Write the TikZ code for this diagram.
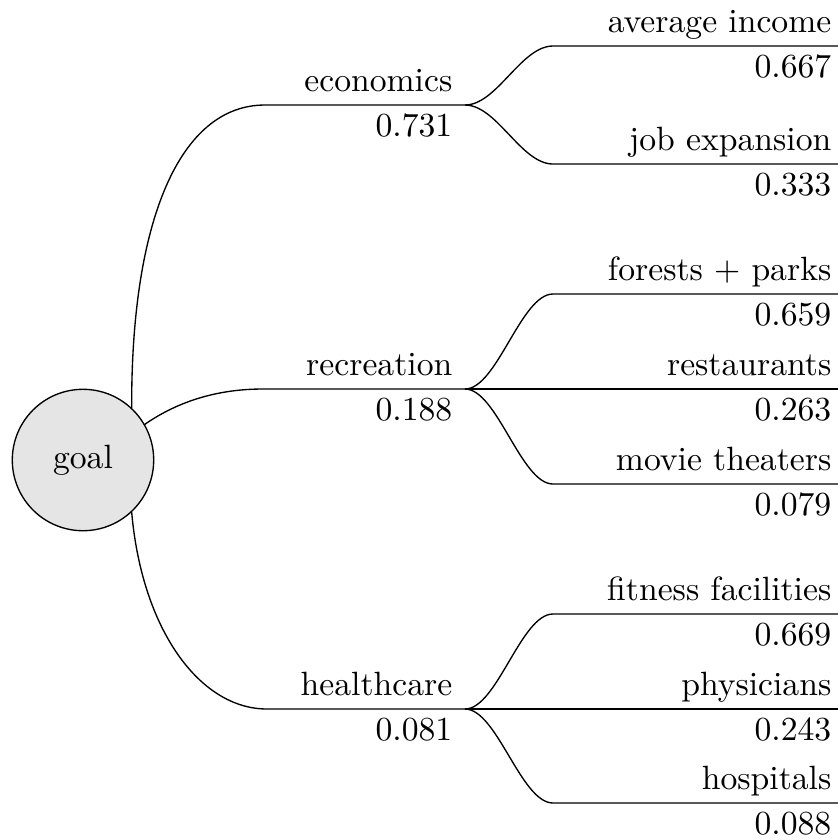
\documentclass[tikz,border=0pt]{standalone}
\begin{document}
\begin{tikzpicture}[x=0.297pt,y=-0.297pt,
  lab/.style={inner sep=0pt, anchor=base east},
  conn/.style={draw=black, line width=0.4pt},
  goalnode/.style={circle, draw=black, line width=0.4pt, fill=black!10, minimum size=42pt, inner sep=0pt}]
\useasboundingbox (0,0) rectangle (838,840);

\node[goalnode] (goal) at (83,460) {goal};

% level 1 coordinates
\coordinate (econA) at (265,105);
\coordinate (econ) at (465,105);
\coordinate (recA) at (263,389);
\coordinate (rec) at (465,389);
\coordinate (hlthA) at (267,709);
\coordinate (hlth) at (465,709);

% level 2 coordinates
\coordinate (incA) at (553,46);   \coordinate (inc) at (838,46);
\coordinate (jobA) at (553,164);  \coordinate (job) at (838,164);
\coordinate (forA) at (553,294);  \coordinate (for) at (838,294);
\coordinate (resA) at (553,389);  \coordinate (res) at (838,389);
\coordinate (movA) at (553,484);  \coordinate (mov) at (838,484);
\coordinate (fitA) at (553,614);  \coordinate (fit) at (838,614);
\coordinate (phyA) at (553,709);  \coordinate (phy) at (838,709);
\coordinate (hosA) at (553,803);  \coordinate (hos) at (838,803);

% level 1 connectors
\draw[conn] (goal.47) .. controls (131,220) and (180,105) .. (econA) -- (econ);
\draw[conn] (goal.30) .. controls (180,400) and (220,389) .. (recA) -- (rec);
\draw[conn] (goal.-47) .. controls (142,630) and (200,709) .. (hlthA) -- (hlth);

% level 2 connectors
\draw[conn] (econ) .. controls +(32,0) and +(-32,0) .. (incA) -- (inc);
\draw[conn] (econ) .. controls +(32,0) and +(-32,0) .. (jobA) -- (job);
\draw[conn] (rec) .. controls +(32,0) and +(-32,0) .. (forA) -- (for);
\draw[conn] (rec) -- (resA) -- (res);
\draw[conn] (rec) .. controls +(32,0) and +(-32,0) .. (movA) -- (mov);
\draw[conn] (hlth) .. controls +(32,0) and +(-32,0) .. (fitA) -- (fit);
\draw[conn] (hlth) -- (phyA) -- (phy);
\draw[conn] (hlth) .. controls +(32,0) and +(-32,0) .. (hosA) -- (hos);

% level 1 labels
\node[lab] (econL) at (453,91) {economics};
\node[lab] (econV) at (453,136.5) {0.731};
\node[lab] (recL) at (453,375) {recreation};
\node[lab] (recV) at (453,420.5) {0.188};
\node[lab] (hlthL) at (453,695) {healthcare};
\node[lab] (hlthV) at (453,740.5) {0.081};

% level 2 labels
\node[lab] (incL) at (832,32) {average income};
\node[lab] (incV) at (832,77.5) {0.667};
\node[lab] (jobL) at (832,150) {job expansion};
\node[lab] (jobV) at (832,195.5) {0.333};
\node[lab] (forL) at (832,280) {forests + parks};
\node[lab] (forV) at (832,325.5) {0.659};
\node[lab] (resL) at (832,375) {restaurants};
\node[lab] (resV) at (832,420.5) {0.263};
\node[lab] (movL) at (832,470) {movie theaters};
\node[lab] (movV) at (832,515.5) {0.079};
\node[lab] (fitL) at (832,600) {fitness facilities};
\node[lab] (fitV) at (832,645.5) {0.669};
\node[lab] (phyL) at (832,695) {physicians};
\node[lab] (phyV) at (832,740.5) {0.243};
\node[lab] (hosL) at (832,789) {hospitals};
\node[lab] (hosV) at (832,834.5) {0.088};
\end{tikzpicture}
\end{document}
